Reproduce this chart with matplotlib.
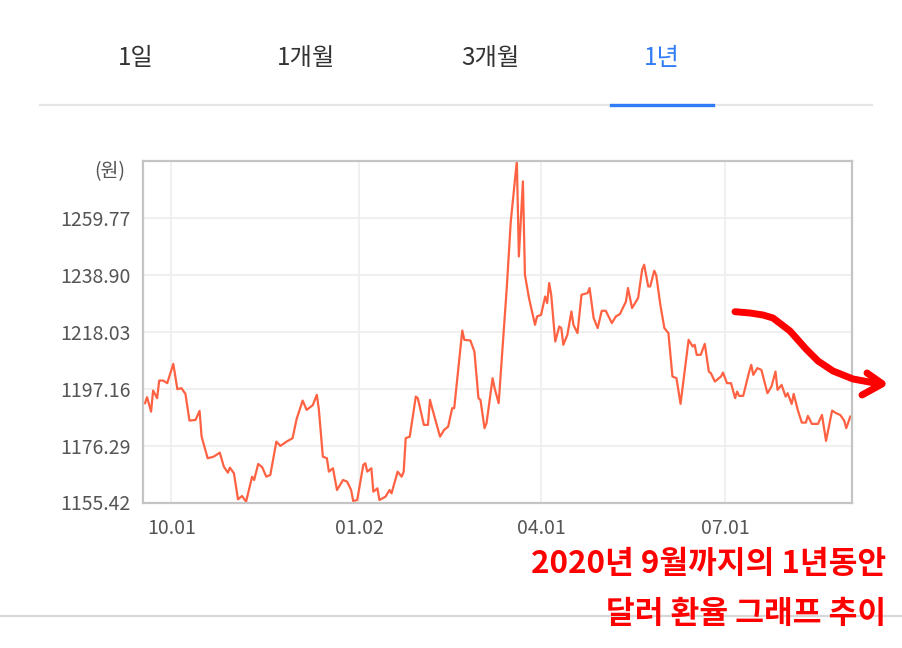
import matplotlib
matplotlib.use("Agg")
import matplotlib.pyplot as plt
from matplotlib.lines import Line2D
import numpy as np
import pandas as pd

plt.rcParams['font.family'] = ['Noto Sans CJK KR', 'DejaVu Sans']

# 원/달러 환율 (2019.09 ~ 2020.09), x = 2019-10-01 기준 일수
base_date = pd.Timestamp('2019-10-01')
days = [-13, -12, -10, -9, -7, -6, -4, -2, 1, 3,
        5, 7, 9, 12, 14, 15, 18, 21, 24, 26,
        28, 29, 31, 33, 35, 37, 40, 41, 43, 45,
        47, 49, 52, 54, 57, 60, 62, 65, 67, 70,
        72, 73, 75, 77, 78, 80, 82, 85, 87, 89,
        90, 92, 95, 96, 97, 99, 100, 102, 103, 106,
        108, 109, 112, 114, 115, 116, 118, 121, 122, 125,
        127, 128, 130, 133, 135, 137, 139, 140, 144, 145,
        148, 150, 152, 153, 155, 156, 159, 160, 162, 166,
        168, 171, 172, 174, 175, 177, 180, 181, 183, 185,
        186, 187, 188, 190, 192, 193, 194, 196, 198, 199,
        201, 203, 206, 207, 209, 211, 213, 215, 218, 220,
        222, 225, 226, 228, 231, 233, 234, 236, 237, 239,
        240, 242, 244, 246, 248, 250, 252, 256, 258, 259,
        260, 262, 264, 266, 267, 269, 272, 273, 275, 277,
        279, 280, 281, 283, 286, 287, 288, 290, 292, 295,
        297, 299, 300, 302, 304, 305, 307, 308, 310, 312,
        314, 315, 317, 320, 322, 324, 327, 329, 331, 333,
        334, 336]
rate = [1191.80, 1194.01, 1188.72, 1196.43, 1193.64, 1200.09, 1200.09, 1199.14, 1206.22, 1196.94,
        1197.31, 1195.22, 1185.42, 1185.68, 1188.98, 1179.55, 1171.63, 1172.22, 1173.69, 1168.55,
        1166.35, 1168.18, 1166.13, 1156.59, 1157.80, 1155.71, 1164.88, 1163.67, 1169.54, 1168.33,
        1164.88, 1165.51, 1177.72, 1176.14, 1177.72, 1178.97, 1185.94, 1192.76, 1189.35, 1191.07,
        1194.85, 1189.70, 1172.22, 1171.63, 1166.72, 1167.96, 1160.00, 1163.67, 1163.05, 1160.00,
        1155.97, 1156.34, 1169.17, 1169.80, 1166.72, 1167.96, 1159.38, 1160.63, 1156.34, 1157.55,
        1160.00, 1158.79, 1166.72, 1164.88, 1166.72, 1178.97, 1179.55, 1194.22, 1193.64, 1183.85,
        1183.85, 1193.01, 1187.51, 1179.55, 1182.01, 1183.22, 1189.97, 1189.97, 1218.43, 1215.02,
        1214.77, 1210.73, 1193.64, 1193.01, 1182.64, 1184.47, 1200.97, 1197.31, 1191.80, 1233.98,
        1258.41, 1280.50, 1245.57, 1273.08, 1238.86, 1230.32, 1220.52, 1223.57, 1224.19, 1230.90,
        1228.48, 1235.82, 1231.53, 1214.40, 1219.90, 1219.31, 1213.19, 1216.86, 1225.40, 1220.52,
        1217.48, 1231.53, 1232.15, 1233.98, 1222.98, 1219.31, 1225.66, 1225.66, 1221.15, 1223.57,
        1224.45, 1229.07, 1233.98, 1226.65, 1230.32, 1240.70, 1242.53, 1234.57, 1234.57, 1240.33,
        1238.61, 1227.86, 1219.31, 1217.48, 1201.56, 1200.97, 1191.55, 1215.02, 1212.56, 1213.19,
        1209.52, 1209.52, 1213.55, 1203.39, 1202.81, 1199.73, 1201.56, 1203.03, 1199.14, 1199.14,
        1193.64, 1196.06, 1194.48, 1194.48, 1203.39, 1205.85, 1202.18, 1204.64, 1204.02, 1195.47,
        1197.89, 1203.39, 1196.68, 1198.52, 1194.22, 1195.47, 1191.55, 1195.22, 1189.35, 1184.69,
        1184.69, 1187.15, 1184.21, 1184.21, 1187.51, 1177.98, 1189.09, 1188.14, 1187.51, 1185.42,
        1182.64, 1186.89]

x_tick_dates = ['2019-10-01', '2020-01-02', '2020-04-01', '2020-07-01']
x_tick_labels = ['10.01', '01.02', '04.01', '07.01']
y_ticks = [1155.42, 1176.29, 1197.16, 1218.03, 1238.90, 1259.77]
y_tick_labels = ['1155.42', '1176.29', '1197.16', '1218.03', '1238.90', '1259.77']
tabs = ['1일', '1개월', '3개월', '1년']

dates = base_date + pd.to_timedelta(days, unit='D')

W, H = 903, 648
fig = plt.figure(figsize=(W / 100, H / 100), dpi=100)


def fx(px):
    return px / W


def fy(py):
    return 1 - py / H


# 상단 탭
tab_x = [136, 306, 490, 662]
for t, xx in zip(tabs, tab_x):
    c = '#2f7cf6' if t == '1년' else '#333333'
    fig.text(fx(xx), fy(58), t, ha='center', va='center', fontsize=17.5, color=c,
             fontweight='light')
fig.add_artist(Line2D([fx(40), fx(872)], [fy(105), fy(105)], transform=fig.transFigure,
                      color='#e6e6e6', lw=1.6))
fig.add_artist(Line2D([fx(611), fx(713)], [fy(105), fy(105)], transform=fig.transFigure,
                      color='#2f7cf6', lw=2.4))

# 차트
ax = fig.add_axes([fx(143), fy(502.5), fx(852.3) - fx(143), fy(160.7) - fy(502.5)])
ax.plot(dates, rate, color='#ff6242', lw=1.6)
ax.set_xlim(pd.Timestamp('2019-09-17'), pd.Timestamp('2020-09-02'))
ax.set_ylim(1155.42, 1280.64)
ax.set_xticks(pd.to_datetime(x_tick_dates))
ax.set_xticklabels(x_tick_labels)
ax.set_yticks(y_ticks)
ax.set_yticklabels(y_tick_labels)
ax.grid(True, color='#eeeeee', lw=1.2)
ax.set_axisbelow(True)
ax.tick_params(length=0, labelsize=14, labelcolor='#555555')
ax.tick_params(axis='y', pad=9)
ax.tick_params(axis='x', pad=11)
for s in ax.spines.values():
    s.set_color('#c4c4c4')
    s.set_linewidth(1.6)
fig.text(fx(125), fy(172), '(원)', ha='right', va='center', fontsize=14, color='#555555')

# 손글씨 화살표
arrow_x = [735, 750, 763, 773, 790, 806, 818, 833, 853, 880]
arrow_y = [311.7, 313, 315, 318, 331, 349, 361, 371, 379, 384]
fig.add_artist(Line2D([fx(v) for v in arrow_x], [fy(v) for v in arrow_y],
                      transform=fig.transFigure, color='#ff0000', lw=5,
                      solid_capstyle='round', solid_joinstyle='round'))
fig.add_artist(Line2D([fx(867), fx(882)], [fy(373), fy(383.5)], transform=fig.transFigure,
                      color='#ff0000', lw=5, solid_capstyle='round'))
fig.add_artist(Line2D([fx(862), fx(882)], [fy(395), fy(384)], transform=fig.transFigure,
                      color='#ff0000', lw=5, solid_capstyle='round'))

# 하단
fig.add_artist(Line2D([0, 1], [fy(616), fy(616)], transform=fig.transFigure,
                      color='#d8d8d8', lw=1.6))
fig.text(fx(886), fy(564), '2020년 9월까지의 1년동안', ha='right', va='center',
         fontsize=22.5, color='#ff0000', fontweight='bold')
fig.text(fx(886), fy(614), '달러 환율 그래프 추이', ha='right', va='center',
         fontsize=22.5, color='#ff0000', fontweight='bold')

fig.savefig('out.png', dpi=100)
